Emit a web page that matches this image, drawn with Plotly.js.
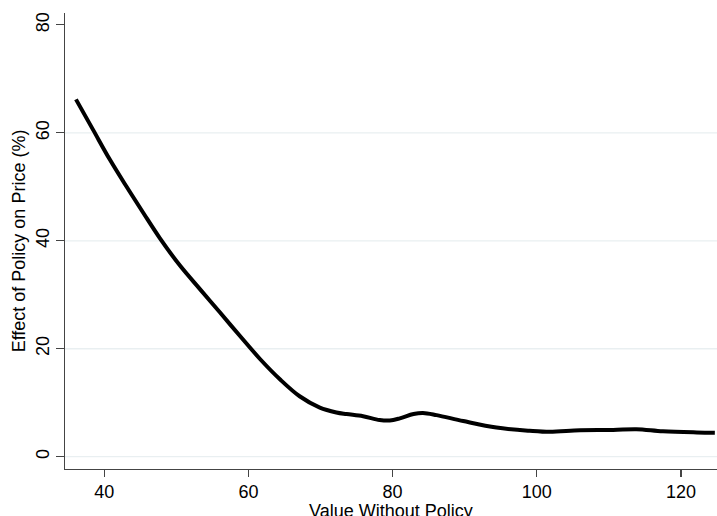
<!DOCTYPE html>
<html>
<head>
<meta charset="utf-8">
<script src="https://cdn.plot.ly/plotly-3.0.1.min.js"></script>
<style>
  html, body { margin: 0; padding: 0; background: #fff; }
  #chart { width: 717px; height: 516px; }
</style>
</head>
<body>
<div id="chart"></div>
<script>
// Data
var valueWithoutPolicy = [36.07, 38.47, 40.79, 43.1, 45.4, 47.7, 50.5, 53.3, 56.0, 58.8, 61.6, 64.4, 67.1, 69.9, 72.2, 73.6, 75.9, 78.2, 79.6, 81.0, 82.9, 84.2, 86.1, 89.8, 94.4, 99.0, 101.8, 106.0, 110.6, 113.8, 117.5, 122.2, 124.7];
var effectOnPrice     = [66.2, 60.5, 55.0, 50.0, 45.2, 40.5, 35.4, 31.0, 26.8, 22.4, 18.1, 14.3, 11.2, 9.1, 8.2, 7.9, 7.5, 6.8, 6.7, 7.1, 7.9, 8.1, 7.7, 6.6, 5.4, 4.8, 4.6, 4.9, 4.95, 5.1, 4.7, 4.5, 4.45];
var xTickVals = [40, 60, 80, 100, 120];
var yTickVals = [0, 20, 40, 60, 80];
var yGridVals = [0, 20, 40, 60];
var xTitle = 'Value Without Policy';
var yTitle = 'Effect of Policy on Price (%)';

var font = "'Liberation Sans', Arial, Helvetica, sans-serif";

var trace = {
  x: valueWithoutPolicy,
  y: effectOnPrice,
  type: 'scatter',
  mode: 'lines',
  line: { color: '#000000', width: 4, shape: 'spline', smoothing: 1 },
  hoverinfo: 'skip',
  showlegend: false
};

var shapes = yGridVals.map(function (v) {
  return {
    type: 'line', xref: 'paper', yref: 'y',
    x0: 0, x1: 1, y0: v, y1: v,
    line: { color: '#e9eff1', width: 1.3 },
    layer: 'below'
  };
});

var layout = {
  width: 717,
  height: 516,
  margin: { l: 65, r: 0, t: 13, b: 47, pad: 0 },
  paper_bgcolor: '#ffffff',
  plot_bgcolor: '#ffffff',
  font: { family: font, size: 18, color: '#000000' },
  showlegend: false,
  shapes: shapes,
  annotations: [{
    text: xTitle,
    xref: 'paper', yref: 'paper',
    x: 0.5, y: 0,
    xanchor: 'center', yanchor: 'top',
    yshift: -31,
    showarrow: false,
    borderpad: 0,
    font: { family: font, size: 18, color: '#000000' }
  }],
  xaxis: {
    range: [34.55, 125],
    tickvals: xTickVals,
    ticktext: xTickVals.map(String),
    ticks: 'outside',
    ticklen: 7,
    tickwidth: 1.2,
    tickcolor: '#444444',
    showline: true,
    linecolor: '#444444',
    linewidth: 1.3,
    showgrid: false,
    zeroline: false,
    ticklabelstandoff: -1,
    tickfont: { family: font, size: 18, color: '#000000' },
    automargin: false
  },
  yaxis: {
    range: [-2.28, 82.2],
    tickvals: yTickVals,
    ticktext: yTickVals.map(String),
    tickangle: -90,
    ticks: 'outside',
    ticklen: 8,
    tickwidth: 1.2,
    tickcolor: '#444444',
    showline: true,
    linecolor: '#444444',
    linewidth: 1.3,
    showgrid: false,
    zeroline: false,
    tickfont: { family: font, size: 18, color: '#000000' },
    title: { text: yTitle, font: { family: font, size: 18, color: '#000000' }, standoff: 2 },
    automargin: false
  }
};

Plotly.newPlot('chart', [trace], layout, { displayModeBar: false, staticPlot: true });
</script>
</body>
</html>
